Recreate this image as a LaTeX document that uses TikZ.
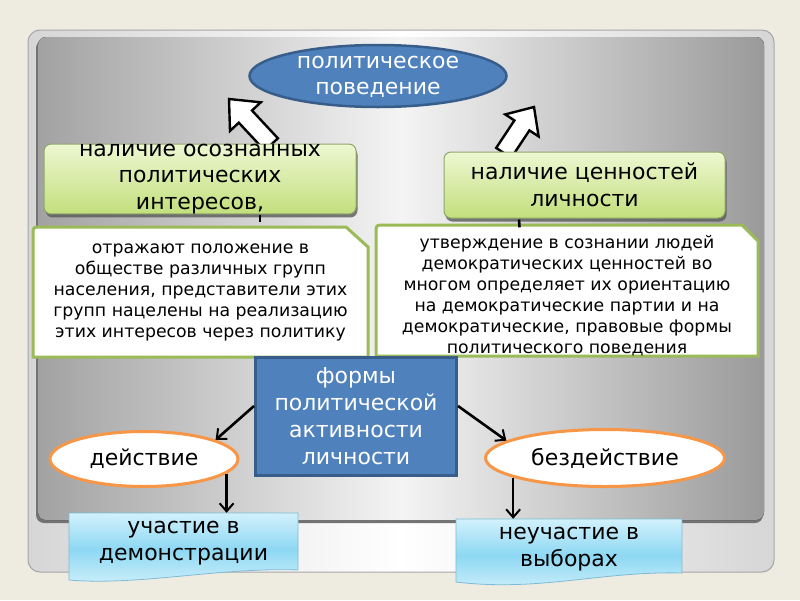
\documentclass[tikz,border=0pt]{standalone}
\usepackage{fontspec}
\setmainfont{DejaVu Sans}
\usetikzlibrary{arrows.meta,shapes.geometric,shadows}
\definecolor{bg}{HTML}{EEECE1}
\definecolor{blueA}{HTML}{4F81BD}
\definecolor{blueB}{HTML}{385D8A}
\definecolor{grntop}{HTML}{EEF7D2}
\definecolor{grnbot}{HTML}{C2DF7C}
\definecolor{grnbord}{HTML}{8FA86A}
\definecolor{wbord}{HTML}{9BBB59}
\definecolor{orng}{HTML}{F79646}
\definecolor{doctop}{HTML}{D2F1FC}
\definecolor{docmid}{HTML}{8DD8F3}
\definecolor{docbot}{HTML}{D0F0FB}
\definecolor{docbord}{HTML}{7DBBD6}
\definecolor{panelside}{HTML}{A2A2A2}
\definecolor{panelmid}{HTML}{F4F4F4}
\definecolor{framesd}{HTML}{D6D6D6}
\begin{document}
\begin{tikzpicture}[x=1pt,y=-1pt,
  big/.style={font=\fontsize{22}{26.5}\selectfont, align=center},
  small/.style={font=\fontsize{17.3}{21}\selectfont, align=center},
  greenbox/.style={draw=grnbord, line width=1pt, rounded corners=7pt,
    top color=grntop, bottom color=grnbot, big, inner sep=0pt,
    drop shadow={shadow xshift=1.5pt, shadow yshift=-3.5pt, fill=black!65, opacity=0.8}},
  ovalbox/.style={ellipse, draw=orng, line width=3pt, fill=white, big, inner sep=0pt},
  arr/.style={line width=2.6pt, -{Straight Barb[length=8pt,width=14pt,line width=2pt]}},
  tickline/.style={line width=2.6pt, black},
  docshape/.style={draw=docbord, line width=0.8pt, top color=doctop, bottom color=docbot, middle color=docmid},
  snipbox/.style={draw=wbord, line width=3pt, fill=white},
  blockarrow/.style={draw=black, line width=2.4pt, fill=white, line join=miter},
]
\useasboundingbox (0,0) rectangle (800,600);
% background and frames
\fill[bg] (0,0) rectangle (800,600);
\draw[draw=black!35, line width=1pt, rounded corners=12pt, left color=framesd, right color=framesd, middle color=white]
  (28,30) rectangle (774,572);
\fill[black!55, rounded corners=8pt] (36,40) rectangle (763,523);
\fill[rounded corners=8pt, left color=panelside, right color=panelside!95!black, middle color=panelmid]
  (38,37) rectangle (764,520);

% block arrows (drawn before boxes)
\draw[blockarrow] (229,99) -- (260.8,102.3) -- (252.0,110.5) -- (277.9,138.3) -- (264.7,150.5)
  -- (238.8,122.7) -- (230.0,130.9) -- cycle;
\draw[blockarrow] (534,107) -- (538.6,136.4) -- (529.4,130.4) -- (511.2,157.9) -- (496.2,147.9)
  -- (514.4,120.4) -- (505.2,114.4) -- cycle;

% top ellipse
\node[ellipse, draw=blueB, line width=2.5pt, fill=blueA, minimum width=257pt, minimum height=62pt] (pp) at (378,76) {};
\node[big, text=white] (pptext) at (378,77) {политическое\\поведение};

% green boxes
\node[greenbox, minimum width=312pt, minimum height=68pt] (gl) at (200,179) {наличие осознанных\\политических\\интересов,};
\node[greenbox, minimum width=281pt, minimum height=66pt] (gr) at (584.5,185) {наличие ценностей\\личности};

% white snipped boxes
\draw[snipbox] (33,357) -- (33,235) .. controls (33,227) .. (41,227) -- (346,227) -- (368,247) -- (368,357) -- cycle;
\node[small, minimum width=335pt, minimum height=130pt] (wl) at (200.5,292) {отражают положение в\\обществе различных групп\\населения, представители этих\\групп нацелены на реализацию\\этих интересов через политику};
\draw[snipbox] (376,356) -- (376,233) .. controls (376,225) .. (384,225) -- (742,225) -- (758,241) -- (758,356) -- cycle;
\node[small, minimum width=382pt, minimum height=131pt] (wr) at (567,296) {утверждение в сознании людей\\демократических ценностей во\\многом определяет их ориентацию\\на демократические партии и на\\демократические, правовые формы\\политического поведения};

% small connectors between green and white boxes
\draw[tickline] ([xshift=60pt,yshift=-1pt]gl.south) -- ([xshift=59.5pt,yshift=5pt]wl.north);
\draw[tickline] ([xshift=-65.5pt,yshift=-1pt]gr.south) -- ([xshift=-47.5pt,yshift=3pt]wr.north);

% central blue box
\node[draw=blueB, line width=3pt, fill=blueA, text=white, big, minimum width=201pt, minimum height=118pt, inner sep=0pt, font=\fontsize{22}{26.8}\selectfont] (formy) at (356,416) {формы\\политической\\активности\\личности};

% ovals
\node[ovalbox, minimum width=188pt, minimum height=55pt] (d) at (144,459) {действие};
\node[ovalbox, minimum width=239pt, minimum height=57pt] (bez) at (605,458) {бездействие};

% document shapes
\path[docshape] (69,513) -- (298,513) -- (298,570) .. controls (220,567) and (140,586) .. (69,580) -- cycle;
\node[big, minimum width=229pt, minimum height=60pt] (uch) at (183.5,543) {участие в\\демонстрации};
\path[docshape] (456,519) -- (682,519) -- (682,573) .. controls (600,571) and (540,592) .. (456,582) -- cycle;
\node[big, minimum width=226pt, minimum height=60pt] (neuch) at (569,549) {неучастие в\\выборах};

% arrows
\draw[arr] ([yshift=10pt]formy.west) -- (d.15);
\draw[arr] ([yshift=10pt]formy.east) -- (bez.170);
\draw[arr] (d.-10) -- (d.-10 |- uch.north);
\draw[arr] (bez.192) -- (bez.192 |- neuch.north);
\end{tikzpicture}
\end{document}
